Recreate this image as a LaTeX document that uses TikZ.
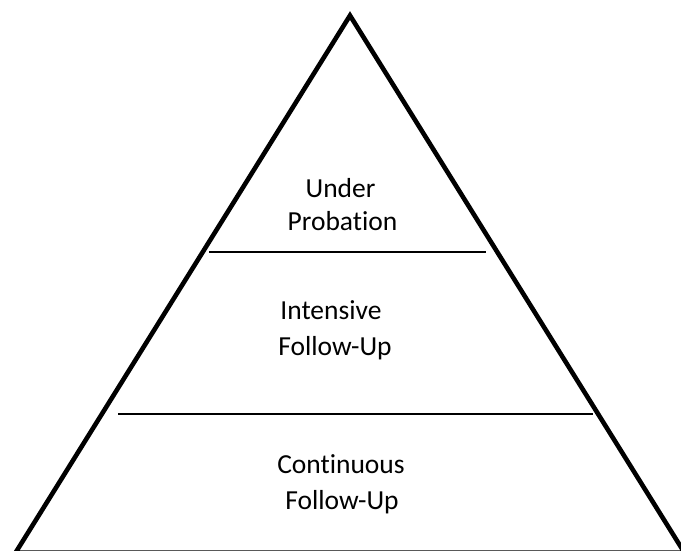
\documentclass[tikz,border=0pt]{standalone}
\usepackage{fontspec}
\setmainfont{Carlito}[Ligatures=NoCommon]
\begin{document}
\begin{tikzpicture}[x=1pt,y=-1pt,
  side/.style={line width=4.6pt,line join=miter,draw=black},
  divider/.style={line width=1.5pt,draw=black},
  label/.style={font=\fontsize{27.5pt}{34pt}\selectfont,anchor=base,inner sep=0pt,text=black}]
\useasboundingbox (0,0) rectangle (681,550);
\clip (0,0) rectangle (681,550);
\coordinate (apex) at (350,15.5);
\coordinate (bl) at (15.6,552.6);
\coordinate (br) at (684.4,552.6);
\draw[side] (bl) -- (apex) -- (br) -- cycle;
\coordinate (d1l) at (209,252);
\coordinate (d1r) at (486,252);
\coordinate (d2l) at (118,414);
\coordinate (d2r) at (593,414);
\draw[divider] (d1l) -- (d1r);
\draw[divider] (d2l) -- (d2r);
\node[label] (t1a) at (340.5,197) {Under};
\node[label] (t1b) at (342.5,230) {Probation};
\node[label] (t2a) at (331,319) {Intensive};
\node[label] (t2b) at (335,355) {Follow-Up};
\node[label] (t3a) at (341,473) {Continuous};
\node[label] (t3b) at (342,509) {Follow-Up};
\end{tikzpicture}
\end{document}
